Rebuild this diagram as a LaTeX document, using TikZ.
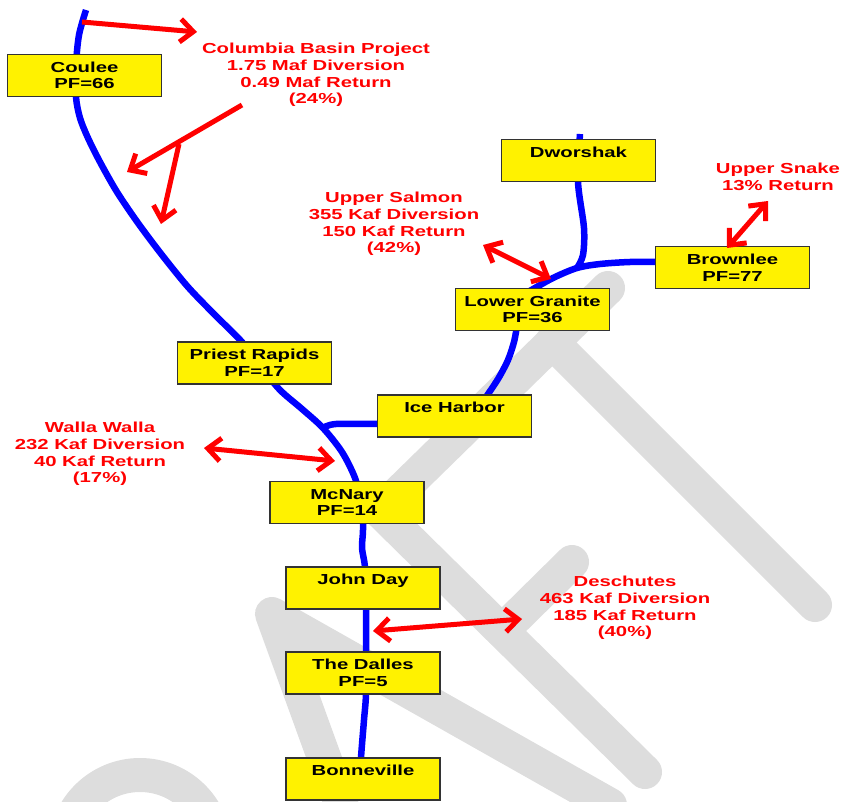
\documentclass[tikz,border=0pt]{standalone}
\usepackage{fontspec}
\setmainfont{Liberation Sans}[FakeStretch=1.4]
\usetikzlibrary{arrows.meta}
\usetikzlibrary{positioning}
\definecolor{wmgray}{RGB}{221,221,221}
\tikzset{
dam/.style={draw=black!80,fill=yellow,line width=1.2pt,minimum width=154pt,
minimum height=42pt,inner sep=0pt,align=center,
font=\fontsize{14.5}{16.6}\selectfont\bfseries},
lbl/.style={text=red,align=center,inner sep=0pt,
font=\fontsize{14.5}{16.8}\selectfont\bfseries},
river/.style={blue,line width=6.5pt,line join=round},
wm/.style={wmgray,line width=34pt,line cap=round,line join=round},
divert/.style={red,line width=5pt,-{Straight Barb[sharp,length=13pt,width=23pt]}},
divert2/.style={red,line width=5pt,
{Straight Barb[sharp,length=13pt,width=23pt]}-{Straight Barb[sharp,length=13pt,width=23pt]}}
}
\begin{document}
\begin{tikzpicture}[x=1pt,y=-1pt]
\useasboundingbox (0,0) rectangle (843,802);

% watermark
\begin{scope}
\clip (0,0) rectangle (843,802);
\draw[wm](608,288)--(380,511)--(645,772);
\draw[wm](502,631)--(572,562);
\draw[wm](552,342)--(815,605);
\draw[wm](345,815)--(272,614)--(610,805);
\draw[wm](65,850) .. controls (65,808.6) and (98.6,775) .. (140,775)
.. controls (181.4,775) and (215,808.6) .. (215,850);
\end{scope}

% rivers
\coordinate(J1)at(323,428);
\coordinate(J2)at(577,268);
\draw[river]plot[smooth]coordinates{(86,10)(79,35)(76,65)(76,97)(80,118)
(88,138)(100,162)(117,192)(138,223)(162,255)(188,287)(215,315)(242,342)
(262,368)(280,390)(302,409)(J1)(342,452)(355,478)(362,505)(363,530)
(362,548)(365,567)(366,600)(366,650)(366,694)(364,720)(361,758)(361,775)};
\draw[river]plot[smooth]coordinates{(J1)(336,424)(385,424)};
\draw[river]plot[smooth]coordinates{(484,400)(498,379)(508,360)(514,342)(517,326)};
\draw[river]plot[smooth]coordinates{(528,292)(553,278)(J2)(600,264)(630,262)(662,262)};
\draw[river]plot[smooth]coordinates{(580,134)(578,182)(584,228)(583,255)(J2)};

% dams
\node[dam](Coulee)at(84.5,75.5){Coulee\\PF=66};
\node[dam](Dworshak)at(578.5,160.5){Dworshak\\\phantom{PF}};
\node[dam](Brownlee)at(732.5,267.5){Brownlee\\PF=77};
\node[dam](LGranite)at(532.5,309.5){Lower Granite\\PF=36};
\node[dam](PRapids)at(254.5,363){Priest Rapids\\PF=17};
\node[dam](IHarbor)at(454.5,416){Ice Harbor\\\phantom{PF}};
\node[dam](McNary)at(347,502.5){McNary\\PF=14};
\node[dam](JDay)at(363,588){John Day\\\phantom{PF}};
\node[dam](TDalles)at(363,673){The Dalles\\PF=5};
\node[dam](Bonn)at(363,779){Bonneville\\\phantom{PF}};

% diversions
\node[lbl](CBP)at(316,75){Columbia Basin Project\\1.75 Maf Diversion\\
0.49 Maf Return\\(24\%)};
\node[lbl](USal)at(394,224){Upper Salmon\\355 Kaf Diversion\\
150 Kaf Return\\(42\%)};
\node[lbl](USna)at(778,176.5){Upper Snake\\13\% Return};
\node[lbl](WWal)at(100,454){Walla Walla\\232 Kaf Diversion\\
40 Kaf Return\\(17\%)};
\node[lbl](Desch)at(625,608){Deschutes\\463 Kaf Diversion\\
185 Kaf Return\\(40\%)};

\coordinate(CB0)at(82,22);
\coordinate(CB1)at(197,32);
\coordinate(CB2)at(242,105);
\coordinate(CB3)at(127,172);
\coordinate(CB4)at(179,144);
\coordinate(CB5)at(161,224);
\draw[divert](CB0)--(CB1);
\draw[divert](CB2)--(CB3);
\draw[divert](CB4)--(CB5);

\coordinate(US0)at(483,245);
\coordinate(US1)at(551,279);
\draw[divert2](US0)--(US1);
\coordinate(SN0)at(727,248);
\coordinate(SN1)at(768,201);
\draw[divert2](SN0)--(SN1);
\coordinate(WW0)at(204,448);
\coordinate(WW1)at(335,461);
\draw[divert2](WW0)--(WW1);
\coordinate(DE0)at(373,631);
\coordinate(DE1)at(522,619);
\draw[divert2](DE0)--(DE1);
\end{tikzpicture}
\end{document}
